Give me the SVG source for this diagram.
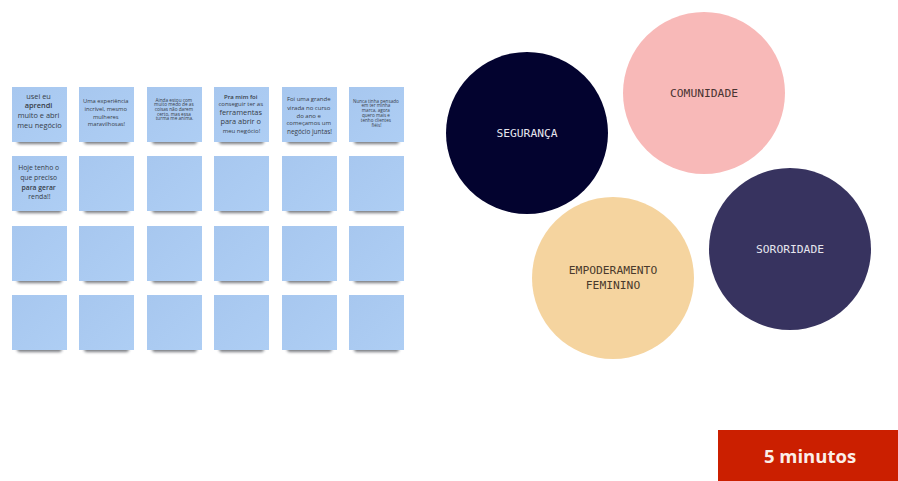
<svg xmlns="http://www.w3.org/2000/svg" width="898" height="481" viewBox="0 0 898 481">
  <defs>
    <filter id="soft" x="-20%" y="-50%" width="140%" height="200%">
      <feGaussianBlur stdDeviation="1.5"/>
    </filter>
    <linearGradient id="paper" x1="0" y1="0" x2="1" y2="1">
      <stop offset="0" stop-color="#a7c7ef"/>
      <stop offset="1" stop-color="#aecef4"/>
    </linearGradient>
    <!-- one sticky note: shadow strip under the bottom edge, then the paper -->
    <g id="note">
      <rect x="5" y="51" width="45" height="6" rx="3" fill="#30343d" opacity="0.65" filter="url(#soft)"/>
      <rect x="0" y="0" width="55" height="55" fill="url(#paper)"/>
    </g>
    <style>
      .nt { font-family: "Open Sans", "Liberation Sans", sans-serif; fill: #363c48; text-anchor: middle; }
      .lbl { font-family: "DejaVu Sans Mono", "Liberation Mono", monospace; font-size: 11.3px; text-anchor: middle; }
      .light { fill: #e6e6ee; }
      .dark { fill: #4a3432; }
    </style>
  </defs>

  <rect width="898" height="481" fill="#ffffff"/>

  <!-- sticky note board: 6 columns x 4 rows -->
  <g id="board">
    <g id="note-1-1" transform="translate(12,87)">
      <use href="#note"/>
      <text class="nt" font-size="7.4">
        <tspan x="27.5" y="12">usei eu</tspan>
        <tspan x="27.5" y="21" font-weight="600">aprendi</tspan>
        <tspan x="27.5" y="31">muito e abri</tspan>
        <tspan x="27.5" y="41">meu negócio</tspan>
      </text>
    </g>
    <g id="note-1-2" transform="translate(79,87)">
      <use href="#note"/>
      <text class="nt" font-size="5.8">
        <tspan x="27.5" y="16">Uma experiência</tspan>
        <tspan x="27.5" y="23.5">incrível, mesmo</tspan>
        <tspan x="27.5" y="31.5">mulheres</tspan>
        <tspan x="27.5" y="38.5">maravilhosas!</tspan>
      </text>
    </g>
    <g id="note-1-3" transform="translate(147,87)">
      <use href="#note"/>
      <text class="nt" font-size="4.7">
        <tspan x="27.5" y="14.5">Ainda estou com</tspan>
        <tspan x="27.5" y="19.2">muito medo de as</tspan>
        <tspan x="27.5" y="23.9">coisas não darem</tspan>
        <tspan x="27.5" y="28.6">certo, mas essa</tspan>
        <tspan x="27.5" y="33.3">turma me anima.</tspan>
      </text>
    </g>
    <g id="note-1-4" transform="translate(214,87)">
      <use href="#note"/>
      <text class="nt" font-size="6">
        <tspan x="27.5" y="11.5" font-weight="600">Pra mim foi</tspan>
        <tspan x="27.5" y="18.5">conseguir ter as</tspan>
        <tspan x="27.5" y="28" font-size="7.4">ferramentas</tspan>
        <tspan x="27.5" y="37" font-size="7.4">para abrir o</tspan>
        <tspan x="27.5" y="46">meu negócio!</tspan>
      </text>
    </g>
    <g id="note-1-5" transform="translate(282,87)">
      <use href="#note"/>
      <text class="nt" font-size="6">
        <tspan x="27.5" y="14">Foi uma grande</tspan>
        <tspan x="27.5" y="22.5">virada no curso</tspan>
        <tspan x="27.5" y="30.5">do ano e</tspan>
        <tspan x="27.5" y="38">começamos um</tspan>
        <tspan x="27.5" y="46.5" font-size="6.4">negócio juntas!</tspan>
      </text>
    </g>
    <g id="note-1-6" transform="translate(349,87)">
      <use href="#note"/>
      <text class="nt" font-size="4.6">
        <tspan x="27.5" y="15.5">Nunca tinha pensado</tspan>
        <tspan x="27.5" y="20.3">em ter minha</tspan>
        <tspan x="27.5" y="25.1">marca, agora</tspan>
        <tspan x="27.5" y="29.9">quero mais e</tspan>
        <tspan x="27.5" y="34.7">tenho clientes</tspan>
        <tspan x="27.5" y="39.5">fiéis!</tspan>
      </text>
    </g>

    <g id="note-2-1" transform="translate(12,156)">
      <use href="#note"/>
      <text class="nt" font-size="6.8">
        <tspan x="27.5" y="14">Hoje tenho o</tspan>
        <tspan x="27.5" y="24">que preciso</tspan>
        <tspan x="27.5" y="34" font-weight="600">para gerar</tspan>
        <tspan x="27.5" y="43">renda!!</tspan>
      </text>
    </g>
    <g id="note-2-2" transform="translate(79,156)"><use href="#note"/></g>
    <g id="note-2-3" transform="translate(147,156)"><use href="#note"/></g>
    <g id="note-2-4" transform="translate(214,156)"><use href="#note"/></g>
    <g id="note-2-5" transform="translate(282,156)"><use href="#note"/></g>
    <g id="note-2-6" transform="translate(349,156)"><use href="#note"/></g>

    <g id="note-3-1" transform="translate(12,226)"><use href="#note"/></g>
    <g id="note-3-2" transform="translate(79,226)"><use href="#note"/></g>
    <g id="note-3-3" transform="translate(147,226)"><use href="#note"/></g>
    <g id="note-3-4" transform="translate(214,226)"><use href="#note"/></g>
    <g id="note-3-5" transform="translate(282,226)"><use href="#note"/></g>
    <g id="note-3-6" transform="translate(349,226)"><use href="#note"/></g>

    <g id="note-4-1" transform="translate(12,295)"><use href="#note"/></g>
    <g id="note-4-2" transform="translate(79,295)"><use href="#note"/></g>
    <g id="note-4-3" transform="translate(147,295)"><use href="#note"/></g>
    <g id="note-4-4" transform="translate(214,295)"><use href="#note"/></g>
    <g id="note-4-5" transform="translate(282,295)"><use href="#note"/></g>
    <g id="note-4-6" transform="translate(349,295)"><use href="#note"/></g>
  </g>

  <!-- theme circles -->
  <g id="seguranca">
    <circle cx="527" cy="133" r="81" fill="#03032f"/>
    <text class="lbl light" x="527" y="136.5">SEGURANÇA</text>
  </g>
  <g id="comunidade">
    <circle cx="704" cy="93" r="81" fill="#f8b9b8"/>
    <text class="lbl dark" x="704" y="97">COMUNIDADE</text>
  </g>
  <g id="sororidade">
    <circle cx="790" cy="249" r="81" fill="#37335f"/>
    <text class="lbl light" x="790" y="253">SORORIDADE</text>
  </g>
  <g id="empoderamento">
    <circle cx="613" cy="278" r="81" fill="#f5d49f"/>
    <text class="lbl" x="613" y="274" fill="#4a3a2c">EMPODERAMENTO</text>
    <text class="lbl" x="613" y="289" fill="#4a3a2c">FEMININO</text>
  </g>

  <!-- timer badge -->
  <g id="timer">
    <rect x="718" y="430" width="180" height="51" fill="#cb1f00"/>
    <text x="810" y="463" font-family="'Open Sans', 'Liberation Sans', sans-serif" font-size="18.5" font-weight="700" fill="#fbeee8" text-anchor="middle">5 minutos</text>
  </g>
</svg>
